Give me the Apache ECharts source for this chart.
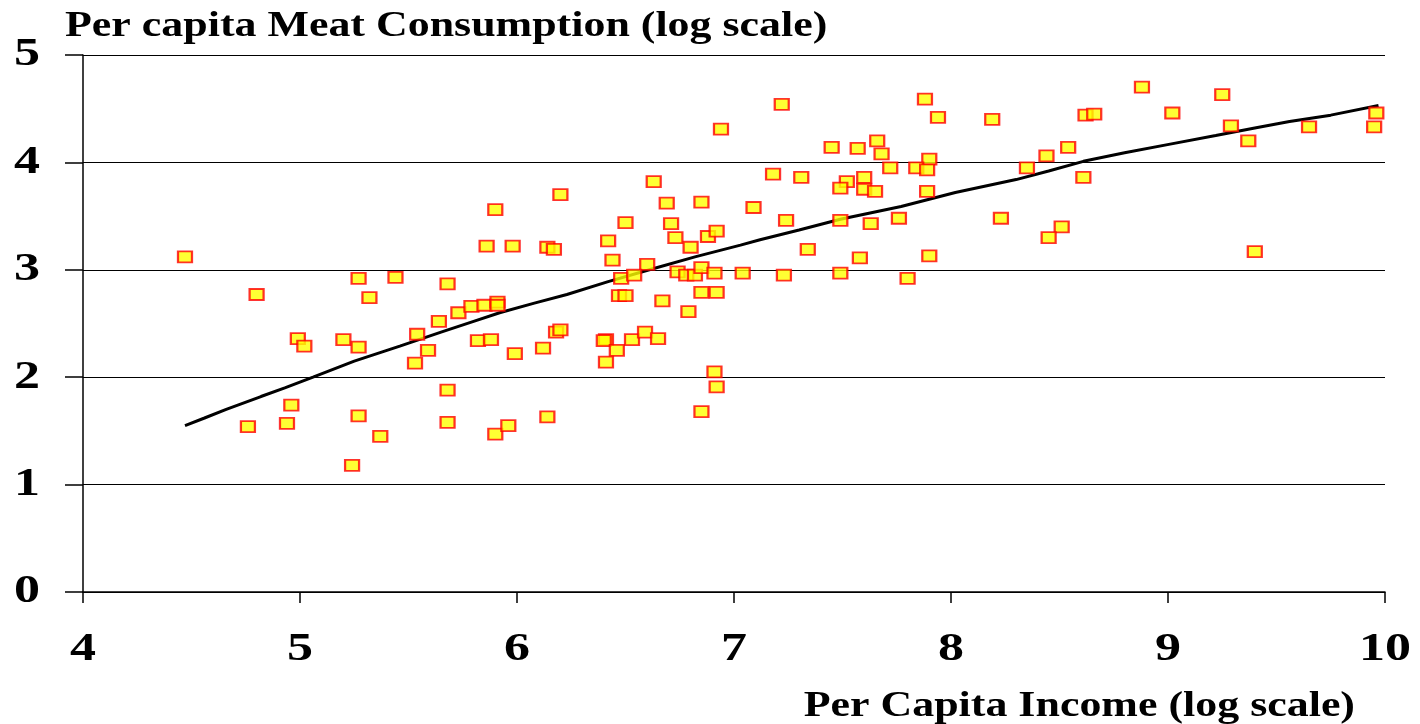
<!DOCTYPE html>
<html>
<head>
<meta charset="utf-8">
<script src="https://cdn.jsdelivr.net/npm/echarts@6/dist/echarts.min.js"></script>
<style>
  html, body { margin: 0; padding: 0; background: #fff; }
  #main { width: 1420px; height: 724px; }
</style>
</head>
<body>
<div id="main"></div>
<script>
// 数据：每个国家的人均收入(对数) 和人均肉类消费(对数)
var incomeX = [4.47, 4.80, 4.76, 4.99, 5.02, 4.96, 4.94, 5.20, 5.27, 5.27, 5.32, 5.44, 5.27, 5.24, 5.37,
  5.53, 5.54, 5.59, 5.64, 5.68, 5.68, 5.68, 5.73, 5.79, 5.85, 5.91, 5.91, 5.82, 5.88, 5.86, 5.90, 5.98,
  5.99, 5.90, 5.96, 6.12, 6.14, 6.17, 6.20, 6.18, 6.20, 6.14, 6.50, 6.42, 6.44, 6.60, 6.48, 6.54, 6.47,
  6.50, 6.41, 6.40, 6.46, 6.53, 6.59, 6.41, 6.63, 6.69, 6.85, 7.09, 6.71, 6.73, 6.88, 6.92, 6.80, 6.74,
  6.78, 6.82, 6.85, 6.91, 7.04, 6.67, 6.79, 6.85, 6.92, 6.65, 6.91, 6.92, 6.85, 6.94, 7.22, 7.88, 7.94,
  7.45, 7.57, 7.66, 7.68, 7.90, 7.72, 7.84, 7.89, 7.18, 7.31, 7.60, 7.52, 7.49, 7.60, 7.65, 7.89, 7.24,
  7.49, 7.63, 7.76, 7.34, 7.58, 7.90, 7.23, 7.49, 7.80, 8.88, 8.19, 8.62, 8.66, 9.02, 8.54, 8.44, 8.35,
  8.61, 8.23, 8.51, 8.45, 9.25, 9.29, 9.37, 9.65, 9.96, 9.95, 9.40];
var meatY = [3.12, 2.77, 1.54, 2.36, 2.29, 1.74, 1.57, 2.35, 2.28, 2.92, 2.74, 2.93, 1.64, 1.18, 1.45,
  2.13, 2.40, 2.25, 2.52, 2.87, 1.88, 1.58, 2.60, 2.66, 2.67, 2.70, 2.67, 2.34, 2.35, 3.22, 3.56, 3.22,
  2.22, 1.47, 1.55, 2.27, 3.21, 3.19, 3.70, 2.42, 2.44, 1.63, 3.44, 3.27, 3.09, 3.05, 2.92, 2.95, 2.76,
  2.76, 2.35, 2.34, 2.25, 2.35, 2.42, 2.14, 3.82, 3.62, 3.63, 3.58, 3.43, 3.30, 3.31, 3.36, 3.21, 2.98,
  2.95, 2.95, 3.02, 2.97, 2.97, 2.71, 2.61, 2.79, 2.79, 2.36, 2.05, 1.91, 1.68, 4.31, 4.54, 4.59, 4.42,
  4.14, 4.13, 4.20, 4.08, 4.03, 3.95, 3.95, 3.93, 3.89, 3.86, 3.86, 3.82, 3.76, 3.75, 3.73, 3.73, 3.46,
  3.46, 3.43, 3.48, 3.19, 3.11, 3.13, 2.95, 2.97, 2.92, 4.70, 4.40, 4.44, 4.45, 4.46, 4.14, 4.06, 3.95,
  3.86, 3.48, 3.40, 3.30, 4.63, 4.34, 4.20, 4.33, 4.46, 4.33, 3.17];

// 平滑拟合曲线
var trendX = [4.47, 4.56, 4.66, 4.82, 4.93, 5.06, 5.25, 5.46, 5.65, 5.80, 5.92, 6.08, 6.23, 6.42, 6.61, 6.82, 7.03, 7.12, 7.30, 7.49, 7.77, 8.02, 8.30, 8.45, 8.61, 8.80, 9.01, 9.22, 9.40, 9.56, 9.75, 9.97];
var trendY = [1.55, 1.62, 1.70, 1.82, 1.90, 2.00, 2.15, 2.29, 2.42, 2.52, 2.60, 2.69, 2.77, 2.89, 3.00, 3.12, 3.23, 3.28, 3.37, 3.47, 3.59, 3.72, 3.84, 3.92, 4.01, 4.09, 4.17, 4.25, 4.32, 4.38, 4.44, 4.53];

// 刻度标签
var xTickLabels = [4, 5, 6, 7, 8, 9, 10];
var yTickLabels = [0, 1, 2, 3, 4, 5];

var scatterData = incomeX.map(function (x, i) { return [x, meatY[i]]; });
var trendData = trendX.map(function (x, i) { return [x, trendY[i]]; });

var myChart = echarts.init(document.getElementById('main'));
var serif = '"Liberation Serif", "Times New Roman", serif';

function wideText(x, y, text, size, align, vAlign) {
    return {
        type: 'text',
        x: x, y: y,
        scaleX: size === 40 ? 1.3 : 1.22,
        style: {
            text: String(text),
            font: 'bold ' + size + 'px ' + serif,
            fill: '#000',
            textAlign: align,
            textVerticalAlign: vAlign
        }
    };
}

var option = {
    animation: false,
    backgroundColor: '#fff',
    grid: { left: 83, right: 35, top: 55, bottom: 132 },
    xAxis: {
        type: 'value',
        min: xTickLabels[0], max: xTickLabels[xTickLabels.length - 1], interval: 1,
        axisLine: { lineStyle: { color: '#000', width: 1.5 } },
        axisTick: { length: 11, lineStyle: { color: '#000', width: 1.5 } },
        splitLine: { show: false },
        axisLabel: { show: false }
    },
    yAxis: {
        type: 'value',
        min: yTickLabels[0], max: yTickLabels[yTickLabels.length - 1], interval: 1,
        axisLine: { show: true, lineStyle: { color: '#000', width: 1.5 } },
        axisTick: { show: true, length: 18, lineStyle: { color: '#000', width: 1.5 } },
        splitLine: { show: true, lineStyle: { color: '#000', width: 1.2 } },
        axisLabel: { show: false }
    },
    series: [
        {
            type: 'line',
            data: trendData,
            showSymbol: false,
            smooth: false,
            lineStyle: { color: '#000', width: 3 },
            z: 2
        },
        {
            type: 'scatter',
            data: scatterData,
            symbol: 'rect',
            symbolSize: [14, 11],
            itemStyle: { color: '#ffff00', borderColor: '#ff0000', borderWidth: 2 },
            z: 3
        }
    ]
};

myChart.setOption(option);

// 标题和刻度文字 (横向拉宽的粗体衬线字)
var texts = [
    wideText(65, 9, 'Per capita Meat Consumption (log scale)', 36, 'left', 'top'),
    wideText(1355, 689, 'Per Capita Income (log scale)', 36, 'right', 'top')
];
xTickLabels.forEach(function (v) {
    var p = myChart.convertToPixel({ gridIndex: 0 }, [v, 0]);
    texts.push(wideText(p[0], 650, v, 40, 'center', 'middle'));
});
yTickLabels.forEach(function (v) {
    var p = myChart.convertToPixel({ gridIndex: 0 }, [4, v]);
    texts.push(wideText(40, p[1], v, 40, 'right', 'middle'));
});
myChart.setOption({ graphic: texts });

window.onresize = myChart.resize;
</script>
</body>
</html>
